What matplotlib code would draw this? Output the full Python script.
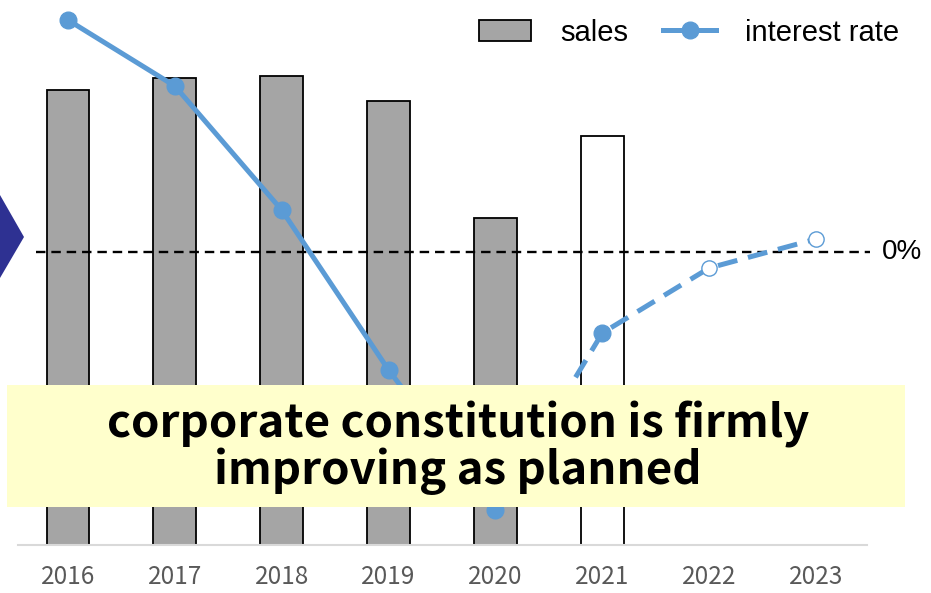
import matplotlib.pyplot as plt
import numpy as np
from matplotlib.patches import Patch, Polygon, Rectangle
from matplotlib.lines import Line2D

years = ['2016', '2017', '2018', '2019', '2020', '2021', '2022', '2023']
sales = [455, 467, 469, 444, 327, 409]
rate = [11.6, 8.3, 2.1, -5.9, -12.9, -4.05, -0.8, 0.65]

blue = '#5B9BD5'
grey = '#A5A5A5'

fig = plt.figure(figsize=(9.31, 5.93), dpi=100)
ax = fig.add_axes([14.5 / 931, 48 / 593, 855 / 931, 545 / 593])
x = np.arange(len(years))

#Sales bars, last one is the plan year (white)
colors = [grey] * 5 + ['white']
ax.bar(x[:len(sales)], sales, width=0.4, color=colors, edgecolor='black', linewidth=1.3, zorder=2)
ax.set_xlim(-0.5, 7.5)
ax.set_ylim(0, 545)
ax.set_yticks([])
ax.set_xticks(x)
ax.set_xticklabels(years, fontsize=17.5, color='#595959', family='Noto Sans CJK JP')
ax.tick_params(axis='x', length=0, pad=14)
for s in ['left', 'right', 'top']:
	ax.spines[s].set_visible(False)
ax.spines['bottom'].set_color('#D9D9D9')
ax.spines['bottom'].set_linewidth(1.5)
ax.spines['bottom'].set_bounds(-0.47, 7.48)

#Interest rate on its own scale
ax2 = ax.twinx()
ax2.set_ylim(-14.65, 12.6)
ax2.axis('off')
ax2.plot([-0.3, 7.5], [0, 0], color='black', linestyle=(0, (4, 2.5)), linewidth=1.7, zorder=1)
ax2.plot(x[:5], rate[:5], color=blue, linewidth=3.6, solid_capstyle='round', zorder=3)
ax2.plot(x[4:], rate[4:], color=blue, linewidth=3.6, linestyle=(0, (4, 2.2)), zorder=3)
ax2.plot(x[:6], rate[:6], linestyle='none', marker='o', markersize=12, color=blue, zorder=4)
ax2.plot(x[6:], rate[6:], linestyle='none', marker='o', markersize=11, markerfacecolor='white',
	markeredgecolor=blue, markeredgewidth=1, zorder=4)
ax2.text(7.62, 0, '0%', fontsize=20, family='Liberation Sans', va='center', ha='left')

#Legend
handles = [Patch(facecolor=grey, edgecolor='black', linewidth=1.3),
	Line2D([0], [0], color=blue, linewidth=3.6, marker='o', markersize=12)]
fig.legend(handles, ['sales', 'interest rate'], loc='upper right', bbox_to_anchor=(0.994, 1.013),
	ncol=2, frameon=False, prop={'family': 'Liberation Sans', 'size': 21},
	handlelength=1.8, handleheight=0.7, columnspacing=1.2, handletextpad=1.0)

#Arrow tip on the left edge
fig.patches.append(Polygon([[0, 1 - 195 / 593], [24 / 931, 1 - 237 / 593], [0, 1 - 278 / 593]],
	closed=True, transform=fig.transFigure, facecolor='#2E3192', edgecolor='none'))

#Message box
fig.patches.append(Rectangle((7 / 931, 1 - 507 / 593), 898 / 931, 122 / 593, transform=fig.transFigure,
	facecolor='#FFFFCC', edgecolor='none', zorder=5))
msg = ['corporate constitution is firmly', 'improving as planned']
for i, line in enumerate(msg):
	fig.text(458 / 931, 1 - (425 + 46 * i) / 593, line, ha='center', va='center', fontsize=32.8,
		fontweight='bold', family='Noto Sans CJK JP', zorder=6)

plt.savefig('out.png', dpi=100)
